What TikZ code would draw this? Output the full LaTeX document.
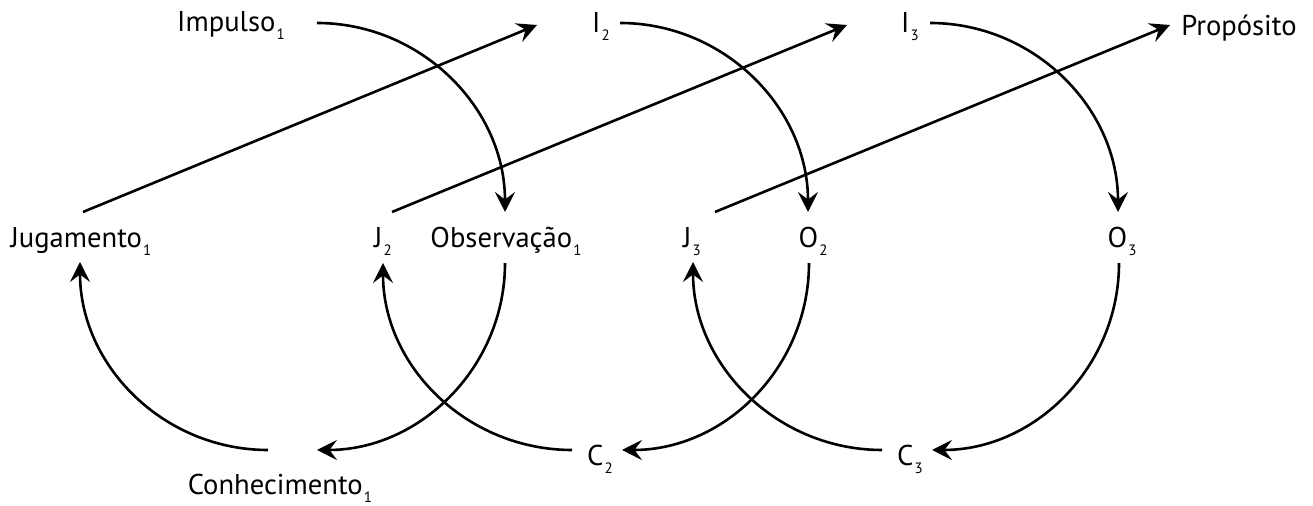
\documentclass[tikz,border=0pt]{standalone}
\usepackage{fontspec}
\setmainfont{PT Sans}
\usetikzlibrary{arrows.meta}
\newcommand\idx[1]{\kern0.6pt\raisebox{-3.6pt}{\fontsize{7.5}{8}\selectfont #1}}

\begin{document}
\begin{tikzpicture}[x=0.5pt, y=-0.5pt, line width=1.3pt,
        >={Stealth[length=10pt, width=10pt, inset=3.8pt]},
        font=\fontsize{14.3}{17}\selectfont,
        lbl/.style={inner sep=0pt, anchor=base}]
    \useasboundingbox (0,0) rectangle (1313,506);
    % labels, placed by the middle of their baselines
    \node[lbl] (I1) at (231,32) {Impulso\idx{1}};
    \node[lbl] (I2) at (601,33) {I\idx{2}};
    \node[lbl] (I3) at (910,33) {I\idx{3}};
    \node[lbl, anchor=base west] (P) at (1180,36) {Propósito};
    \node[lbl] (J1) at (81,248) {Jugamento\idx{1}};
    \node[lbl] (J2) at (383,248) {J\idx{2}};
    \node[lbl] (O1) at (506,248) {Observação\idx{1}};
    \node[lbl] (J3) at (692,248) {J\idx{3}};
    \node[lbl] (O2) at (813,248) {O\idx{2}};
    \node[lbl] (O3) at (1122,248) {O\idx{3}};
    \node[lbl] (C1) at (280,495) {Conhecimento\idx{1}};
    \node[lbl] (C2) at (600,466) {C\idx{2}};
    \node[lbl] (C3) at (910,466) {C\idx{3}};
    % impulse -> observation
    \draw[->] ([shift={(86,-9)}]I1.base) to[out=0, in=90] ([shift={(-1,-36)}]O1.base);
    \draw[->] ([shift={(19,-10)}]I2.base) to[out=0, in=90] ([shift={(-5,-36)}]O2.base);
    \draw[->] ([shift={(20,-10)}]I3.base) to[out=0, in=90] ([shift={(-4,-36)}]O3.base);
    % observation -> knowledge
    \draw[->] ([shift={(-1,15)}]O1.base) to[out=-90, in=0] ([shift={(37,-45)}]C1.base);
    \draw[->] ([shift={(-4,15)}]O2.base) to[out=-90, in=0] ([shift={(22,-16)}]C2.base);
    \draw[->] ([shift={(-3,15)}]O3.base) to[out=-90, in=0] ([shift={(22,-16)}]C3.base);
    % knowledge -> judgement
    \draw[->] ([shift={(-12,-45)}]C1.base) to[out=180, in=-90] ([shift={(-1,14)}]J1.base);
    \draw[->] ([shift={(-28,-16)}]C2.base) to[out=180, in=-90] ([shift={(0,15)}]J2.base);
    \draw[->] ([shift={(-28,-16)}]C3.base) to[out=180, in=-90] ([shift={(1,14)}]J3.base);
    % judgement -> next impulse
    \draw[->] ([shift={(2,-36)}]J1.base) -- ([shift={(-64,-8)}]I2.base);
    \draw[->] ([shift={(9,-36)}]J2.base) -- ([shift={(-63,-8)}]I3.base);
    \draw[->] ([shift={(23,-36)}]J3.base) -- ([shift={(-10,-11)}]P.base west);
\end{tikzpicture}
\end{document}
